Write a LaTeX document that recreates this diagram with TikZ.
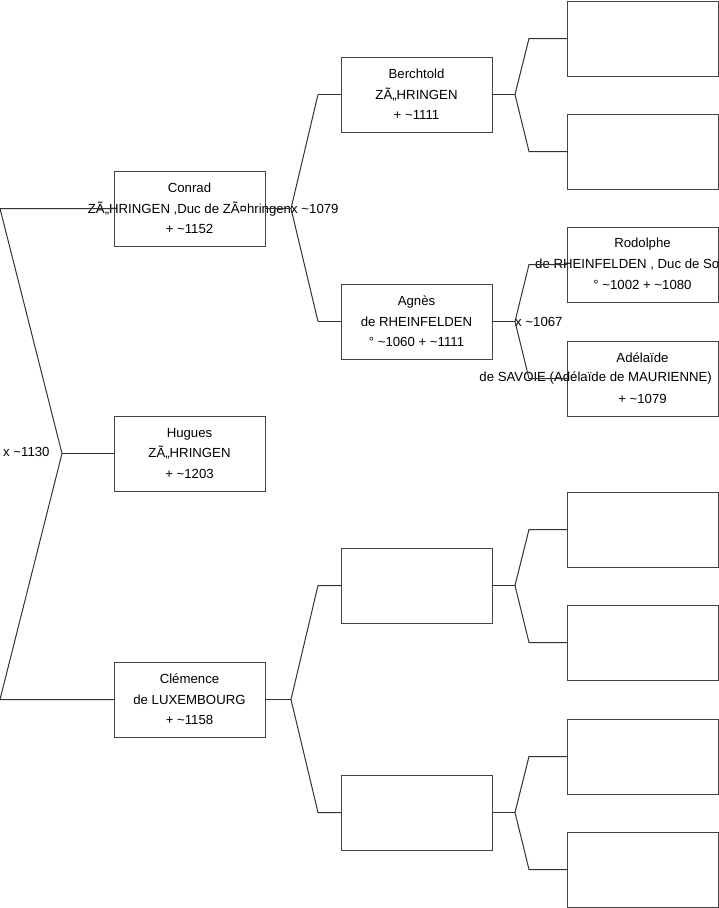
\documentclass[tikz,border=0pt]{standalone}
\usepackage{fontspec}
\setmainfont{Liberation Sans}
\definecolor{lc}{HTML}{333333}
\definecolor{bc}{HTML}{444444}
\begin{document}
\begin{tikzpicture}[x=1pt,y=-1pt,
  box/.style={draw=bc, line width=1pt, minimum width=151pt, minimum height=75pt, inner sep=0pt, outer sep=0pt, anchor=north west, fill=white},
  txt/.style={align=center, font=\fontsize{13.2}{20.5}\selectfont, inner sep=0pt, text=black},
  lab/.style={font=\fontsize{13.2}{15}\selectfont, inner sep=0pt, text=black, anchor=west},
  con/.style={draw=lc, line width=1pt}]
\useasboundingbox (0,0) rectangle (719,908);
% boxes
\node[box] (conrad) at (114,171) {};
\node[box] (hugues) at (114,416) {};
\node[box] (clemence) at (114,662) {};
\node[box] (berchtold) at (341,57) {};
\node[box] (agnes) at (341,284) {};
\node[box] (ea) at (341,548) {};
\node[box] (eb) at (341,775) {};
\node[box] (b1) at (567,1) {};
\node[box] (b2) at (567,114) {};
\node[box] (rod) at (567,227) {};
\node[box] (ade) at (567,341) {};
\node[box] (c1) at (567,492) {};
\node[box] (c2) at (567,605) {};
\node[box] (c3) at (567,719) {};
\node[box] (c4) at (567,832) {};
% texts
\node[txt] (tconrad) at (conrad.center) {Conrad\\ZÃ„HRINGEN ,Duc de ZÃ¤hringen\\+ \textasciitilde1152};
\node[txt] (thugues) at (hugues.center) {Hugues\\ZÃ„HRINGEN\\+ \textasciitilde1203};
\node[txt] (tclem) at (clemence.center) {Clémence\\de LUXEMBOURG\\+ \textasciitilde1158};
\node[txt] (tberch) at (berchtold.center) {Berchtold\\ZÃ„HRINGEN\\+ \textasciitilde1111};
\node[txt] (tagnes) at (agnes.center) {Agnès\\de RHEINFELDEN\\° \textasciitilde1060 + \textasciitilde1111};
\node[txt] (trod1) at (642.5,244) {Rodolphe};
\node[lab] (trod2) at (535,264.5) {de RHEINFELDEN , Duc de So};
\node[txt] (trod3) at (642.5,285) {° \textasciitilde1002 + \textasciitilde1080};
\node[txt] (tade1) at (642.5,358) {Adélaïde};
\node[lab, anchor=east] (tade2) at (712,378.5) {de SAVOIE (Adélaïde de MAURIENNE)};
\node[txt] (tade3) at (642.5,399) {+ \textasciitilde1079};
% fork points
\coordinate (f0) at (62,453.5);
\coordinate (r1) at (0,208.5);
\coordinate (r2) at (0,699.5);
\coordinate (f1) at (291,208.5);
\coordinate (f2) at (515,94.5);
\coordinate (f3) at (515,321.5);
\coordinate (f4) at (291,699.5);
\coordinate (f5) at (515,585.5);
\coordinate (f6) at (515,812.5);
% connectors
\draw[con] (conrad.west) -- (r1) -- (f0) -- (r2) -- (clemence.west);
\draw[con] (f0) -- (hugues.west);
\draw[con] (conrad.east) -- (f1);
\draw[con] ([xshift=-23pt]berchtold.west) -- (f1) -- ([xshift=-23pt]agnes.west);
\draw[con] ([xshift=-23pt]berchtold.west) -- (berchtold.west);
\draw[con] ([xshift=-23pt]agnes.west) -- (agnes.west);
\draw[con] (clemence.east) -- (f4);
\draw[con] (ea.west) -- ([xshift=-23pt]ea.west) -- (f4) -- ([xshift=-23pt]eb.west) -- (eb.west);
\draw[con] (berchtold.east) -- (f2);
\draw[con] (b1.west) -- ([xshift=-38pt]b1.west) -- (f2) -- ([xshift=-38pt]b2.west) -- (b2.west);
\draw[con] (agnes.east) -- (f3);
\draw[con] (rod.west) -- ([xshift=-38pt]rod.west) -- (f3) -- ([xshift=-38pt]ade.west) -- (ade.west);
\draw[con] (ea.east) -- (f5);
\draw[con] (c1.west) -- ([xshift=-38pt]c1.west) -- (f5) -- ([xshift=-38pt]c2.west) -- (c2.west);
\draw[con] (eb.east) -- (f6);
\draw[con] (c3.west) -- ([xshift=-38pt]c3.west) -- (f6) -- ([xshift=-38pt]c4.west) -- (c4.west);
% labels
\node[lab] (l0) at (3,452) {x \textasciitilde1130};
\node[lab] (l1) at (f1) {x \textasciitilde1079};
\node[lab] (l3) at (f3) {x \textasciitilde1067};
\end{tikzpicture}
\end{document}
